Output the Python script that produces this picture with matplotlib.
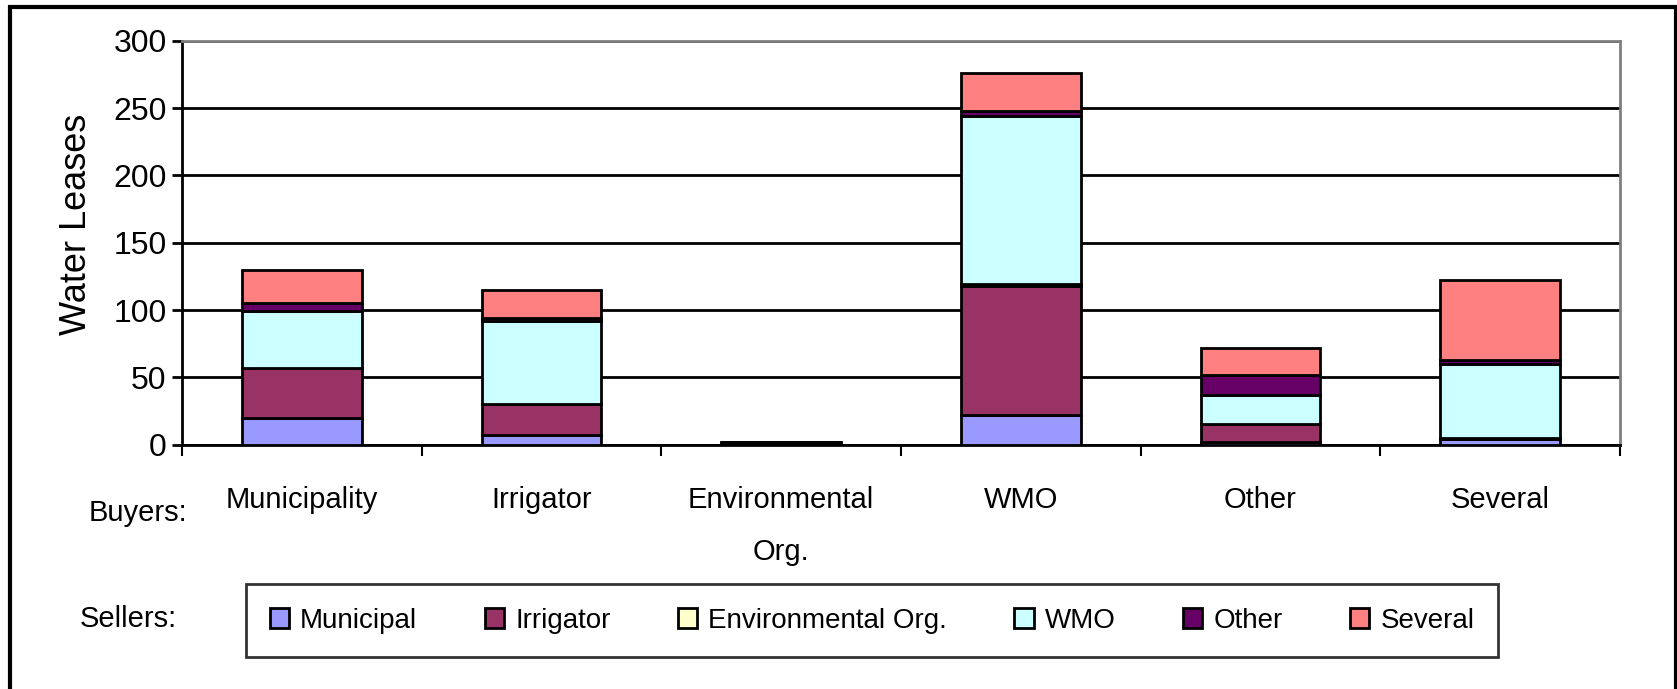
import matplotlib
matplotlib.use("Agg")
import matplotlib.pyplot as plt
from matplotlib.patches import Rectangle
import numpy as np

plt.rcParams["font.family"] = ["Liberation Sans", "DejaVu Sans"]

buyers = ["Municipality", "Irrigator", "Environmental\nOrg.", "WMO", "Other", "Several"]
sellers = ["Municipal", "Irrigator", "Environmental Org.", "WMO", "Other", "Several"]

# leases by seller type, one value per buyer category
municipal = [20, 7, 0, 22, 2, 4]
irrigator = [37, 23, 1, 96, 13, 1]
environmental = [0, 0, 0, 1, 0, 0]
wmo = [42, 62, 1, 125, 22, 55]
other = [6, 2, 0, 4, 15, 3]
several = [25, 21, 0, 28, 20, 59]

series = [municipal, irrigator, environmental, wmo, other, several]
colors = ["#9999ff", "#993366", "#ffffcc", "#ccffff", "#660066", "#ff8080"]

fig = plt.figure(figsize=(16.77, 6.89), dpi=100)
ax = fig.add_axes([182 / 1677, 1 - 444.5 / 689, (1620 - 182) / 1677, (444.5 - 41) / 689])

x = np.arange(len(buyers))
bottom = np.zeros(len(buyers))
for vals, col, lab in zip(series, colors, sellers):
    ax.bar(x, vals, width=0.5, bottom=bottom, color=col, edgecolor="black",
           linewidth=2, label=lab, zorder=3)
    bottom += np.array(vals)

ax.set_xlim(-0.5, 5.5)
ax.set_ylim(0, 300)
ax.set_yticks(range(0, 301, 50))
ax.yaxis.grid(True, color="black", linewidth=2, zorder=0)
ax.set_axisbelow(True)

ax.set_xticks(x)
ax.set_xticklabels(buyers, fontsize=21, linespacing=2.1)
ax.tick_params(axis="x", which="major", length=0, pad=30)
ax.set_xticks(np.arange(-0.5, 6, 1), minor=True)
ax.tick_params(axis="x", which="minor", length=8, width=1.5, direction="out")
ax.tick_params(axis="y", labelsize=23, length=7, width=2, direction="out", pad=4)

for s in ["left", "bottom"]:
    ax.spines[s].set_color("black")
    ax.spines[s].set_linewidth(2)
for s in ["top", "right"]:
    ax.spines[s].set_color("#808080")
    ax.spines[s].set_linewidth(2)

ax.set_ylabel("Water Leases", fontsize=26)
ax.yaxis.set_label_coords(-0.061, 0.545)

fig.text(187 / 1677, 1 - 513 / 689, "Buyers:", fontsize=21, ha="right", va="center")
fig.text(177 / 1677, 1 - 619 / 689, "Sellers:", fontsize=21, ha="right", va="center")

leg = fig.legend(loc="center", bbox_to_anchor=(246 / 1677, 1 - 658 / 689, (1498 - 246) / 1677, 75 / 689),
                 ncol=6, fontsize=20, frameon=True, fancybox=False, handlelength=0.7,
                 handleheight=0.7, handletextpad=0.4, columnspacing=1.6, mode="expand",
                 borderaxespad=0, borderpad=0.85)
leg.get_frame().set_edgecolor("black")
leg.get_frame().set_linewidth(2)

fig.patches.append(Rectangle((10 / 1677, -0.05), (1676 - 10) / 1677, 1.05 - 7 / 689,
                             transform=fig.transFigure, fill=False, edgecolor="black", linewidth=3))

fig.savefig("out.png", dpi=100)
